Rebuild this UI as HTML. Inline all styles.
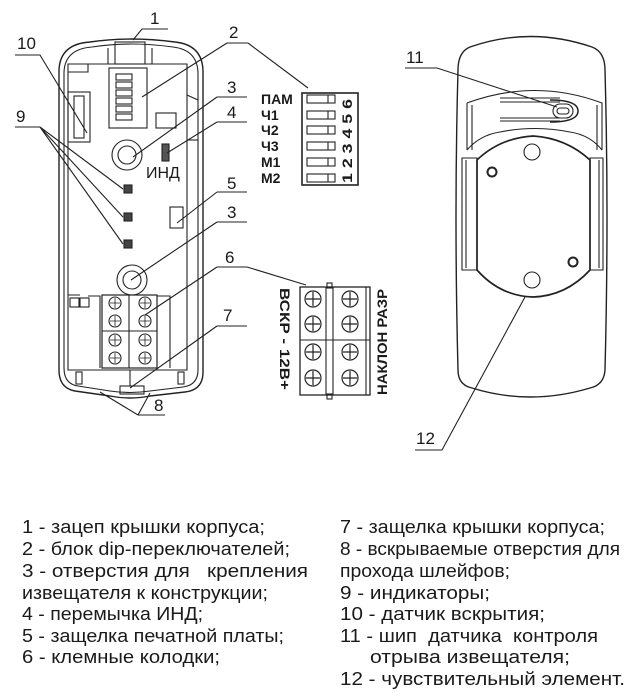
<!DOCTYPE html>
<html><head><meta charset="utf-8"><style>
html,body{margin:0;padding:0;background:#fff;}
svg{display:block;}
text{font-family:"Liberation Sans",sans-serif;fill:#1a1a1a;}
.b{font-weight:bold;}
</style></head><body>
<svg width="643" height="699" viewBox="0 0 643 699" xmlns="http://www.w3.org/2000/svg">
<g fill="none" stroke="#222" stroke-width="1.1">
<!-- LEFT DEVICE -->
<path d="M59,70 Q60,44 90,42 Q130,36 175,42 Q203,45 203,72 L203,372 Q203,390 185,392 L150,396 Q130,400 110,396 L75,391 Q59,388 59,370 Z" stroke-width="1.4"/>
<path d="M64,72 Q65,49 92,47 Q130,41 173,47 Q198,50 198,74 L198,370 Q198,385 183,387 L150,391 Q130,394 110,391 L78,386 Q64,384 64,368 Z"/>
<path d="M68,64 L187,64 L187,370 L68,370 Z"/>
<rect x="115" y="42" width="30" height="22"/>
<line x1="108" y1="48" x2="108" y2="64"/><line x1="152" y1="48" x2="152" y2="64"/>
<path d="M68,72 L88,72 L88,64"/>
<rect x="68" y="92" width="22" height="50"/>
<rect x="74" y="96" width="10" height="42"/>
<rect x="109" y="68" width="38" height="60"/>
<g>
<rect x="116" y="74" width="16" height="6"/><rect x="116" y="82" width="16" height="6"/><rect x="116" y="90" width="16" height="6"/><rect x="116" y="98" width="16" height="6"/><rect x="116" y="106" width="16" height="6"/><rect x="116" y="114" width="16" height="6"/>
</g>
<rect x="156" y="113" width="20" height="15"/>
<circle cx="127" cy="155" r="15"/><circle cx="127" cy="155" r="9"/>
<rect x="162" y="144" width="7" height="17" fill="#555"/>
<rect x="124" y="185" width="8" height="8" fill="#444"/>
<rect x="124" y="213" width="8" height="8" fill="#444"/>
<rect x="124" y="240" width="8" height="8" fill="#444"/>
<rect x="170" y="207" width="13" height="21"/>
<line x1="187" y1="95" x2="198" y2="100"/>
<line x1="187" y1="140" x2="198" y2="140"/>
<circle cx="132" cy="280" r="15"/><circle cx="132" cy="280" r="9"/>
<path d="M68,295 L80,295 M88,296 L100,296 L100,368 M157,296 L170,296 L170,368"/>
<rect x="70" y="298" width="9" height="9"/><rect x="80" y="298" width="9" height="9"/>
<rect x="102" y="295" width="55" height="73" stroke-width="1.2"/>
<line x1="129" y1="295" x2="129" y2="368"/><line x1="102" y1="331" x2="157" y2="331"/>
<g>
<circle cx="115" cy="303" r="6"/><circle cx="145" cy="303" r="6"/>
<circle cx="115" cy="321" r="6"/><circle cx="145" cy="321" r="6"/>
<circle cx="115" cy="340" r="6"/><circle cx="145" cy="340" r="6"/>
<circle cx="115" cy="358" r="6"/><circle cx="145" cy="358" r="6"/>
</g>
<g stroke-width="0.8">
<path d="M110,303h10M115,298v10M140,303h10M145,298v10M110,321h10M115,316v10M140,321h10M145,316v10M110,340h10M115,335v10M140,340h10M145,335v10M110,358h10M115,353v10M140,358h10M145,353v10"/>
</g>
<rect x="76" y="372" width="6" height="12"/><rect x="178" y="372" width="6" height="12"/>
<rect x="120" y="386" width="24" height="8"/>
<line x1="130" y1="370" x2="130" y2="386"/>

<!-- leader lines left -->
<path d="M142,29 L168,29 M142,29 L133,40"/>
<path d="M15,55 L40,55 L87,133"/>
<path d="M227,43 L248,43 M227,43 L142,97 M248,43 L308,88"/>
<path d="M217,97 L247,97 M217,97 L133,157"/>
<path d="M217,122 L247,122 M217,122 L167,153"/>
<path d="M217,192 L247,192 M217,192 L177,223"/>
<path d="M217,222 L247,222 M217,222 L131,280"/>
<path d="M217,267 L247,267 M217,267 L145,315 M247,267 L306,285"/>
<path d="M217,326 L247,326 M217,326 L130,388"/>
<path d="M138,415 L165,415 M138,415 L100,392 M138,415 L150,393"/>
<path d="M15,127 L40,127 M40,127 L123,189 M40,127 L123,217 M40,127 L123,244"/>

<!-- DIP big -->
<rect x="302" y="93" width="56" height="92" stroke-width="1.6"/>
<g>
<rect x="307" y="95" width="28" height="8"/><line x1="328" y1="95" x2="328" y2="103"/>
<rect x="307" y="111" width="28" height="8"/><line x1="328" y1="111" x2="328" y2="119"/>
<rect x="307" y="126" width="28" height="8"/><line x1="328" y1="126" x2="328" y2="134"/>
<rect x="307" y="142" width="28" height="8"/><line x1="328" y1="142" x2="328" y2="150"/>
<rect x="307" y="158" width="28" height="8"/><line x1="328" y1="158" x2="328" y2="166"/>
<rect x="307" y="174" width="28" height="8"/><line x1="328" y1="174" x2="328" y2="182"/>
</g>

<!-- Terminal big -->
<rect x="300" y="287" width="70" height="108" stroke-width="1.3"/>
<line x1="326" y1="287" x2="326" y2="395"/><line x1="333" y1="287" x2="333" y2="395"/>
<line x1="366" y1="287" x2="366" y2="395"/>
<line x1="300" y1="340" x2="370" y2="340"/>
<rect x="327" y="283" width="5" height="5"/><rect x="327" y="394" width="5" height="5"/>
<g stroke-width="1.2">
<circle cx="313" cy="299" r="8"/><circle cx="350" cy="299" r="8"/>
<circle cx="313" cy="324" r="8"/><circle cx="350" cy="324" r="8"/>
<circle cx="313" cy="352" r="8"/><circle cx="350" cy="352" r="8"/>
<circle cx="313" cy="378" r="8"/><circle cx="350" cy="378" r="8"/>
<path d="M306,299h14M313,292v14M343,299h14M350,292v14M306,324h14M313,317v14M343,324h14M350,317v14M306,352h14M313,345v14M343,352h14M350,345v14M306,378h14M313,371v14M343,378h14M350,371v14"/>
</g>

<!-- RIGHT DEVICE -->
<path d="M470,47 Q530,26 592,47 Q605,52 605,70 Q609,215 605,370 Q604,385 590,388 Q530,406 472,388 Q458,385 458,370 Q454,215 458,70 Q458,52 470,47 Z" stroke-width="1.4"/>
<path d="M467,103 Q535,78 602,103 L602,150 M467,103 L467,150"/>
<line x1="472" y1="105" x2="472" y2="150"/><line x1="597" y1="105" x2="597" y2="150"/>
<path d="M467,150 Q480,135 500,132 Q535,125 570,132 Q590,135 602,150"/>
<path d="M500,98 L560,98 M500,121 L560,121 M500,102 L560,102 M500,118 L560,118" stroke-width="0.9"/>
<rect x="553" y="104" width="20" height="14" rx="7"/><rect x="557" y="108" width="12" height="6" rx="3"/>
<path d="M550,100 Q578,100 578,111 Q578,122 550,122" stroke-width="1.5"/>
<path d="M462,158 L477,158 L477,270 L462,270 Z M590,158 L603,158 L603,270 L590,270 Z"/>
<path d="M466,160 L466,268 M599,160 L599,268"/>
<path d="M477,160 Q500,138 533,136 Q566,138 590,160 L590,270 Q566,296 533,297 Q500,296 477,270 Z" stroke-width="1.7"/>
<circle cx="532" cy="152" r="8"/><circle cx="532" cy="280" r="8"/>
<circle cx="492" cy="172" r="4.5" stroke-width="2"/><circle cx="573" cy="262" r="4.5" stroke-width="2"/>
<path d="M405,68 L437,68 L557,107"/>
<path d="M415,450 L442,450 L525,297"/>
</g>

<!-- labels -->
<g font-size="17">
<text x="150" y="24">1</text>
<text x="17" y="49">10</text>
<text x="229" y="38">2</text>
<text x="227" y="93">3</text>
<text x="227" y="118">4</text>
<text x="227" y="189">5</text>
<text x="227" y="218">3</text>
<text x="225" y="263">6</text>
<text x="223" y="321">7</text>
<text x="154" y="411">8</text>
<text x="16" y="122">9</text>
<text x="406" y="63">11</text>
<text x="416" y="444">12</text>
</g>
<text x="146" y="178" font-size="16">ИНД</text>
<g class="b" font-size="14">
<text x="261" y="104" class="b">ПАМ</text>
<text x="261" y="120" class="b">Ч1</text>
<text x="261" y="135" class="b">Ч2</text>
<text x="261" y="151" class="b">Ч3</text>
<text x="261" y="167" class="b">М1</text>
<text x="261" y="183" class="b">М2</text>
<text transform="translate(352,183) rotate(-90)" class="b" textLength="84" lengthAdjust="spacingAndGlyphs">1 2 3 4 5 6</text>
<text transform="translate(280,288) rotate(90)" class="b" textLength="102" lengthAdjust="spacingAndGlyphs">ВСКР - 12В+</text>
<text transform="translate(387,395) rotate(-90)" class="b" textLength="106" lengthAdjust="spacingAndGlyphs">НАКЛОН РАЗР</text>
</g>

<!-- legend -->
<g font-size="18">
<text x="22" y="533" textLength="243" lengthAdjust="spacingAndGlyphs">1 - зацеп крышки корпуса;</text>
<text x="22" y="555" textLength="268" lengthAdjust="spacingAndGlyphs">2 - блок dip-переключателей;</text>
<text x="22" y="577" textLength="286" lengthAdjust="spacingAndGlyphs" xml:space="preserve">3 - отверстия для   крепления</text>
<text x="22" y="599" textLength="246" lengthAdjust="spacingAndGlyphs">извещателя к конструкции;</text>
<text x="22" y="620" textLength="181" lengthAdjust="spacingAndGlyphs">4 - перемычка ИНД;</text>
<text x="22" y="642" textLength="262" lengthAdjust="spacingAndGlyphs">5 - защелка печатной платы;</text>
<text x="22" y="663" textLength="198" lengthAdjust="spacingAndGlyphs">6 - клемные колодки;</text>
<text x="340" y="533" textLength="265" lengthAdjust="spacingAndGlyphs">7 - защелка крышки корпуса;</text>
<text x="340" y="555" textLength="280" lengthAdjust="spacingAndGlyphs">8 - вскрываемые отверстия для</text>
<text x="340" y="577" textLength="170" lengthAdjust="spacingAndGlyphs">прохода шлейфов;</text>
<text x="340" y="599" textLength="150" lengthAdjust="spacingAndGlyphs">9 - индикаторы;</text>
<text x="340" y="620" textLength="205" lengthAdjust="spacingAndGlyphs">10 - датчик вскрытия;</text>
<text x="340" y="642" textLength="258" lengthAdjust="spacingAndGlyphs" xml:space="preserve">11 - шип  датчика  контроля</text>
<text x="370" y="663" textLength="200" lengthAdjust="spacingAndGlyphs">отрыва извещателя;</text>
<text x="340" y="685" textLength="285" lengthAdjust="spacingAndGlyphs">12 - чувствительный элемент.</text>
</g>
</svg>
</body></html>
